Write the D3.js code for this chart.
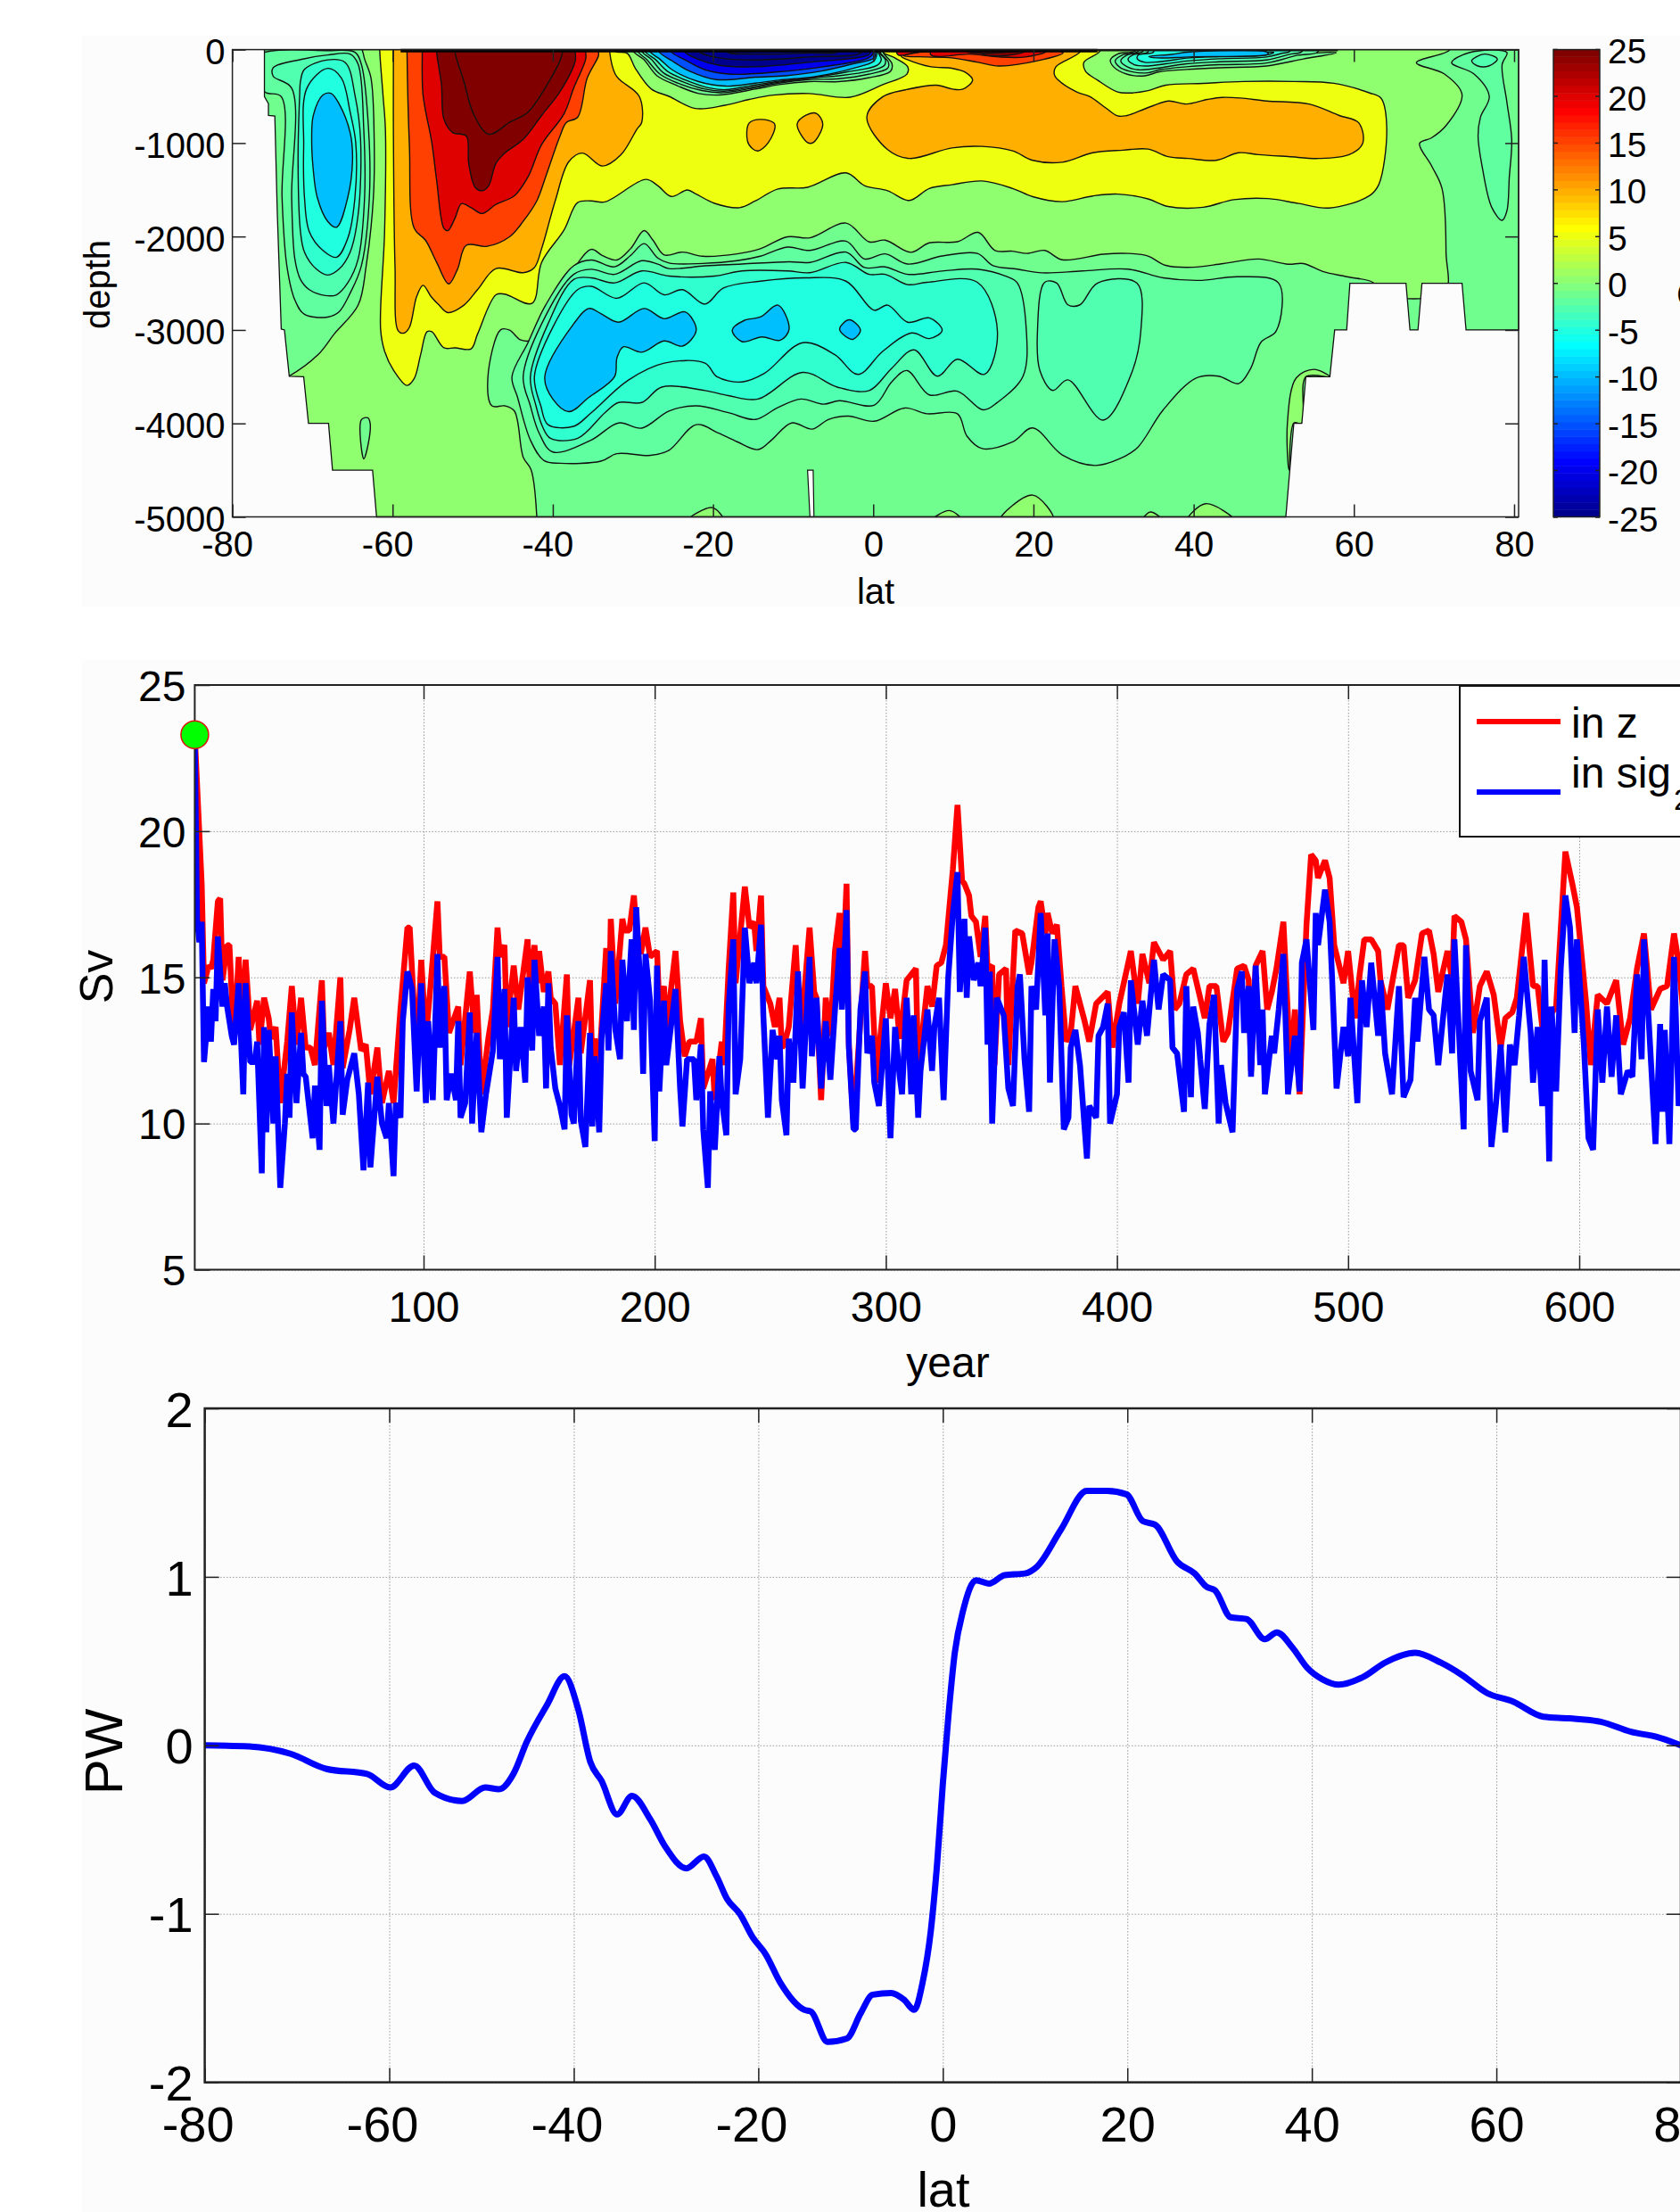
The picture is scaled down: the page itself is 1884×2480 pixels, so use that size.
<!DOCTYPE html>
<html>
<head>
<meta charset="utf-8">
<script src="https://cdn.jsdelivr.net/npm/d3@7"></script>
<style>
  body { margin: 0; background: #fff; }
  svg { display: block; font-family: "Liberation Sans", sans-serif; }
  text { fill: #000; }
</style>
</head>
<body>
<svg id="fig" width="1884" height="2480"></svg>
<script>
// tick labels
let latTicks = [-80, -60, -40, -20, 0, 20, 40, 60, 80];
let depthTicks = [0, -1000, -2000, -3000, -4000, -5000];
let colorTicks = [25, 20, 15, 10, 5, 0, -5, -10, -15, -20, -25];
let yearTicks = [100, 200, 300, 400, 500, 600];
let svTicks = [5, 10, 15, 20, 25];
let pwTicks = [-2, -1, 0, 1, 2];

// top panel: every contour is [lat, metres below surface]
let oceanFloor = [[-76,0],[-76,504],[-75.5,577],[-75.5,705],[-74.7,712],[-74.4,1729],[-73.9,2990],[-73.5,3000],[-72.9,3495],[-71.1,3500],[-70.5,4000],[-68,4000],[-67.5,4500],[-62.5,4500],[-62,5000],[51.5,5000],[52.5,4000],[53.5,4000],[54,3500],[57,3500],[57.6,3000],[59.1,3000],[59.5,2500],[66.5,2500],[67,3000],[68,3000],[68.5,2500],[73.5,2500],[74,3000],[80.56,3000],[80.56,0]];
let trench = [[-8.2,4500],[-7.5,4500],[-7.4,5000],[-7.9,5000]];
let ribbonThick = [[-59,10],[28,10]];
let ribbonThin = [[28,8],[58,8]];

let zero = [[-72.95,3495],[-69.3,3264],[-67.3,3045],[-64.3,2734],[-63.3,2314],[-62.4,1583],[-62.3,961],[-62.7,303],[-63.6,66],[-63.6,-60],[71.9,-60],[71.9,8],[67.8,140],[71.3,261],[73.5,482],[71.6,803],[69.7,944],[68.2,1004],[69.7,1245],[71,1486],[71.5,2169],[71.3,2600],[62.5,2600],[62.5,2500],[59.1,2430],[56.2,2377],[53.7,2289],[51.8,2297],[48.1,2241],[43.7,2289],[39.9,2329],[36.5,2309],[34.3,2209],[31.8,2181],[28.7,2189],[23.6,2249],[21.4,2149],[19.2,2181],[17.4,2157],[15.2,2149],[13.1,1956],[10.5,2056],[7,2068],[4.7,2169],[1.5,2039],[-0.5,2058],[-3.4,1857],[-7.9,2014],[-10.7,2003],[-14.1,2131],[-17,2186],[-21.3,2211],[-23.8,2167],[-26.1,2197],[-27.5,2039],[-28.6,1937],[-30.3,2131],[-32,2251],[-33.8,2204],[-35.2,2138],[-37.4,2350],[-40.3,2789],[-42.6,3107],[-44,3107],[-45.4,3001],[-46.5,2997],[-48.1,3501],[-47.6,3812],[-46,3812],[-44.8,3867],[-43.7,4360],[-42.7,4499],[-42,5000],[-42,5300],[-76,5300],[-76,3600]];
let zeroBumps = [
  [[-23.2,5040],[-20.1,4901],[-18.7,5040]],
  [[7.3,5040],[9.5,4932],[11.1,5040]],
  [[15.8,5040],[19.9,4767],[22.5,5040]],
  [[33.7,5020],[34.6,4948],[35.9,5020]],
  [[39.2,5040],[41.5,4859],[45.1,5040]],
  [[51.9,4498],[51.7,3996],[52.8,3514],[55,3422],[57,3502],[54,3502],[53.5,3996],[52.5,3996]]
];
let southSliver = [[-63.9,3960],[-63.1,3940],[-62.8,4000],[-63,4200],[-63.6,4380]];

let plus5 = [[-61.6,18],[-61.2,486],[-60.9,852],[-61,1948],[-61.5,2990],[-61,3227],[-59.9,3428],[-58.2,3593],[-57.3,3520],[-56.5,3264],[-55.7,3019],[-55.1,3019],[-53.6,3191],[-52.2,3191],[-50.2,3202],[-49.4,3045],[-47.1,2624],[-46,2617],[-42.6,2716],[-41.4,2277],[-38.6,1930],[-36.9,1637],[-35.2,1619],[-33.5,1630],[-28.4,1389],[-26.9,1455],[-25.2,1572],[-23.2,1502],[-22.1,1546],[-19.8,1645],[-16.7,1692],[-14.7,1619],[-11.9,1491],[-8.2,1473],[-3.4,1319],[-1.1,1455],[1.8,1510],[4.5,1614],[7,1486],[9.8,1446],[13.6,1406],[17.4,1486],[19.9,1574],[23.6,1627],[27.4,1566],[30.5,1546],[34.3,1598],[36.8,1679],[41.2,1687],[45,1606],[49.3,1594],[53.1,1647],[56.9,1695],[61.9,1566],[63.1,1446],[64.1,843],[63.4,522],[61.9,462],[57.5,361],[52.5,341],[46.2,341],[41.2,361],[36.5,381],[34.3,439],[32,464],[30.5,454],[28,327],[26.5,232],[26.3,136],[28.3,16]];
let plus10South = [[-59.9,18],[-59.9,852],[-59.7,2314],[-59.3,3008],[-58.6,3034],[-57.9,2972],[-57,2643],[-56.2,2522],[-55.2,2643],[-54.2,2734],[-53.1,2814],[-51.1,2734],[-49.4,2569],[-47.1,2343],[-43.7,2387],[-42.3,2332],[-41.4,2131],[-39.7,1619],[-38,1199],[-36.3,1107],[-33.8,1246],[-31.5,1126],[-29.5,852],[-28.9,779],[-29.2,502],[-31.6,327],[-32.2,264],[-32.9,25]];
let plus10IslandA = [[-15.5,788],[-14,747],[-12.3,798],[-13.1,995],[-14.4,1084],[-15.1,1059],[-15.7,979]];
let plus10IslandB = [[-9.5,798],[-8.4,702],[-7.1,683],[-6.3,798],[-7.5,995],[-8.2,995]];
let plus10North = [[25.9,16],[22.8,184],[22.6,264],[23.1,327],[25.4,454],[27,502],[29.1,629],[30.5,709],[31.5,709],[33.1,662],[35,598],[36.9,550],[39.1,582],[41.7,534],[43.5,512],[45.8,518],[49.1,550],[54.4,582],[58.1,703],[60.6,783],[61.1,1004],[59.4,1124],[55.6,1165],[51.8,1145],[48.1,1124],[45.6,1104],[42.8,1185],[39.3,1165],[36.8,1145],[34.3,1064],[31.2,1076],[27.4,1104],[23.6,1205],[19.9,1185],[17.4,1084],[13.6,1036],[9.8,1052],[4.5,1165],[1.8,1071],[-0.8,724],[1.2,504],[4,431],[7.9,381],[9.9,423],[11.2,423],[12.4,327],[11.6,248],[9.8,200],[7.2,184],[4.2,105],[3.5,73],[3.5,16]];
let plus15South = [[-58.2,18],[-57.9,1034],[-57.3,1912],[-55.9,2039],[-54.5,2277],[-53,2507],[-51.9,2350],[-50.8,2094],[-48.2,2105],[-45.4,2003],[-43.7,1838],[-42,1619],[-40.9,1363],[-39.1,925],[-38.3,779],[-36.9,724],[-35.7,303],[-34.3,66],[-34.3,18]];
let plus20South = [[-56.3,18],[-56.2,486],[-55.1,998],[-54.5,1400],[-53.6,1912],[-53.1,1937],[-52.2,1802],[-51.4,1648],[-50.2,1692],[-48.8,1754],[-47.1,1656],[-44.8,1564],[-43.1,1363],[-41.4,1016],[-38.6,687],[-37.4,413],[-35.9,102],[-35.9,18]];
let plus25South = [[-54.5,29],[-53.9,376],[-53.6,742],[-52.5,888],[-50.8,925],[-50.5,1217],[-49.7,1473],[-48.8,1510],[-48,1455],[-47.1,1217],[-46,1107],[-43.7,961],[-41.4,705],[-39.1,450],[-37.2,121],[-37.2,29]];
let plus30South = [[-52.2,29],[-51.1,340],[-49.9,687],[-48,906],[-45.4,779],[-43.1,669],[-40.6,358],[-38.9,66]];
let plus15North = [[3.8,67],[6,25],[23.7,34],[20.5,120],[15.7,175],[13.1,136],[9.8,89],[6.8,79]];
let plus20North = [[3.1,57],[5.7,25],[21.5,25],[19,79],[15.7,79],[12,48],[7.2,57]];
let plus25North = [[11.6,16],[19,16],[17.9,48],[15.3,67],[13.5,41]];

let tropicZero = [[-32.2,16],[-30.7,41],[-29.7,200],[-27.7,423],[-25.5,500],[-22.2,630],[-18.5,595],[-15.5,534],[-12.5,487],[-8,470],[-2.9,510],[1.2,375],[4.2,262],[4.3,184],[2.7,89],[1,16]];
let tropicM1 = [[-29.96,16],[-28.66,105],[-26.99,280],[-24.76,375],[-21.79,470],[-19.19,486],[-14.74,423],[-11.77,375],[-8.05,343],[-4.34,343],[-0.63,302],[2.15,232],[2.34,152],[1.22,25]];
let tropicM2 = [[-29.4,16],[-28.3,105],[-26.6,264],[-24.4,359],[-21.4,438],[-18.8,461],[-14.7,407],[-11.8,359],[-8.1,321],[-4.3,312],[-0.6,264],[1.8,200],[1.9,136],[0.85,25]];
let tropicM3 = [[-28.9,16],[-27.7,105],[-26.2,248],[-23.8,343],[-21,423],[-18.6,445],[-14.7,394],[-11.8,349],[-7.7,305],[-4.3,280],[-0.6,232],[1.4,168],[1.5,105],[0.7,25]];
let tropicM5 = [[-28.5,16],[-27.2,105],[-25.7,232],[-22.9,343],[-20.3,413],[-18.4,429],[-14.7,378],[-11.8,340],[-7.5,296],[-3.2,238],[0.5,168],[1,105],[0.6,25]];
let tropicM10 = [[-27.9,16],[-26.6,105],[-25.1,216],[-21.8,343],[-18.4,391],[-14.7,359],[-11.8,327],[-7.3,289],[-2.5,200],[0.1,120],[0.5,25]];
let tropicM15 = [[-26.8,16],[-25.1,121],[-22.9,232],[-19.6,321],[-14.7,295],[-11,280],[-6.6,232],[-2.5,152],[0.1,89],[0.3,25]];
let tropicM20 = [[-25.3,16],[-23.6,105],[-21,216],[-17.7,264],[-11.8,238],[-6.2,184],[-0.6,89],[0.1,25]];
let tropicM25 = [[-23.6,16],[-21.8,105],[-19.2,168],[-14.7,184],[-8.1,136],[-0.6,57],[-0.3,16]];
let tropicM30 = [[-21.8,16],[-19.2,89],[-14.7,111],[-8.1,79],[-1.4,25]];
let tropicM35 = [[-18.4,16],[-14.7,48],[-8.1,35],[-4.3,16]];

let southM2 = [[-76,450],[-73.9,504],[-73.8,1583],[-73.2,2314],[-72.2,2679],[-71,2833],[-68.1,2862],[-66.7,2807],[-65.3,2606],[-63.9,2314],[-62.9,1583],[-63,852],[-63.9,157],[-64.7,29],[-68.1,11],[-77,77]];
let southM3 = [[-74.9,194],[-71.2,102],[-68.1,58],[-65.3,48],[-64.3,157],[-63.6,852],[-63.5,1583],[-64.3,2241],[-65.6,2497],[-67,2624],[-68.4,2632],[-70.4,2569],[-71.5,2460],[-72.2,2241],[-72.6,1583],[-72.6,413],[-74.9,285]];
let southM4 = [[-71.5,340],[-71,212],[-68.1,110],[-65.9,139],[-64.7,486],[-64,961],[-64.3,1765],[-65.3,2167],[-66.7,2350],[-68.1,2412],[-69.5,2350],[-71,2167],[-71.5,1948],[-71.8,1217],[-71.6,486]];
let southM5 = [[-70.7,413],[-68.1,201],[-66.4,303],[-65.3,669],[-64.6,998],[-64.7,1583],[-65.6,2021],[-67,2222],[-68.7,2149],[-70.4,1948],[-71,1583],[-71.1,1034]];
let southM10 = [[-69.9,705],[-68.7,486],[-67.7,468],[-66.7,577],[-65.3,888],[-65,1181],[-65.6,1583],[-67,1901],[-68.1,1838],[-69.4,1583],[-69.9,1290],[-70.1,961]];

let deepM2 = [[-45.1,3501],[-43.1,3136],[-40.9,2734],[-37.4,2314],[-35.2,2251],[-32.3,2324],[-30.3,2204],[-28.6,2076],[-26.9,2230],[-25.5,2284],[-21.3,2288],[-17,2259],[-14.1,2211],[-10.7,2113],[-7.9,2149],[-3.4,2050],[-1.1,2240],[1.5,2186],[4.3,2295],[8.6,2209],[13,2181],[14.9,2309],[18,2349],[21.1,2389],[26.1,2369],[31.8,2349],[36.2,2442],[40.6,2470],[45.6,2430],[50.6,2498],[50.3,3012],[48.4,3132],[47.1,3414],[45.6,3574],[43.1,3494],[40.3,3514],[36.2,3855],[33,4257],[30.8,4377],[27.7,4450],[23.6,4337],[19.9,4048],[17.4,4197],[13.6,4269],[11.7,4136],[10.5,3896],[6.7,3896],[3.9,3835],[0.1,3977],[-3.1,3922],[-5.6,3958],[-7.6,4061],[-10.2,3995],[-12.7,4178],[-14.4,4280],[-17,4196],[-19.3,4105],[-22.1,4013],[-25.5,4287],[-27.8,4342],[-32,4324],[-34,4404],[-39.1,4426],[-41.1,4397],[-42.8,4178],[-44.4,3721]];
let deepM3 = [[-43.7,3501],[-41.4,2935],[-37.4,2405],[-35.2,2350],[-32.3,2405],[-28.9,2259],[-26.9,2295],[-25.5,2343],[-21,2314],[-16.4,2295],[-10.5,2270],[-7.9,2277],[-3.4,2167],[-1.1,2332],[1.5,2325],[4.3,2405],[8.6,2369],[13,2349],[16.7,2430],[18,2498],[19.1,2992],[18.7,3494],[15.5,3775],[13.7,3855],[10.5,3655],[7,3695],[4.2,3434],[2.3,3556],[0.1,3805],[-4.2,3757],[-6.2,3794],[-9,3739],[-11.9,3830],[-14.7,3958],[-18.1,3885],[-22.1,3812],[-25.5,3867],[-28.9,4050],[-31.8,3995],[-35.2,4178],[-40,4306],[-41.7,4105],[-42.8,3812]];
let deepM3East = [[21.4,2490],[22.9,2498],[24.3,2731],[25.8,2731],[28,2498],[32.9,2498],[33.4,3012],[32.1,3494],[28.7,3964],[24.3,3534],[22.4,3647],[20.8,3434],[20.5,3012]];
let deepM4 = [[-42.8,3501],[-40.6,2935],[-37.4,2460],[-35.2,2442],[-32.3,2496],[-28.9,2368],[-25.5,2423],[-19.8,2423],[-16.4,2368],[-10.7,2368],[-7.9,2387],[-3.4,2277],[-0.5,2405],[1.5,2405],[4.3,2515],[6.7,2490],[13,2490],[15.5,3012],[13.9,3474],[10.5,3313],[8,3494],[5.1,3213],[2.3,3410],[-0.5,3648],[-4.5,3611],[-8.8,3454],[-14.4,3739],[-18.1,3702],[-21,3648],[-26.4,3611],[-28.9,3776],[-31.8,3776],[-33.5,3885],[-36.9,4159],[-40.3,4159],[-41.3,4031],[-42.1,3812]];
let deepM5 = [[-42.3,3501],[-40,2971],[-36.9,2569],[-35.2,2533],[-32,2661],[-28.6,2496],[-26.1,2624],[-23.8,2569],[-21,2723],[-18.7,2551],[-14.1,2478],[-8.5,2442],[-3.4,2478],[0.1,2789],[1.8,2734],[4.3,2917],[7,2871],[8.6,3004],[7,3092],[4.8,3032],[1.2,3227],[-1.9,3476],[-4.8,3264],[-8.8,3136],[-13.6,3465],[-16.4,3556],[-19.5,3501],[-21,3355],[-26.1,3355],[-30.6,3538],[-35.2,3885],[-37.4,4031],[-40.6,4013],[-41.5,3812]];
let deepM10A = [[-41,3501],[-37.4,2935],[-35.5,2770],[-34,2825],[-31.8,2917],[-28.6,2770],[-26.1,2880],[-23.5,2807],[-22.1,3001],[-23.8,3172],[-26.1,3118],[-28.9,3238],[-31.2,3180],[-32,3300],[-32.3,3501],[-35.5,3721],[-38,3874],[-40,3739]];
let deepM10B = [[-17.6,3001],[-16.1,2898],[-14.1,2862],[-11.9,2734],[-10.5,2990],[-11.6,3110],[-13.9,3074],[-16.4,3125]];
let deepM10C = [[-4.2,2990],[-3,2891],[-1.6,3001],[-2.5,3099],[-3.1,3088]];

let northM1 = [[32.8,9],[30.5,47],[29.6,111],[30,184],[31.7,264],[33.9,280],[35.7,238],[39.1,213],[43.2,194],[49.1,175],[53.7,100],[57.8,32],[50,12]];
let northM2 = [[33.1,16],[31.1,57],[30.2,120],[30.7,184],[32,232],[34.3,248],[35.7,216],[39.1,184],[43.2,162],[49.1,143],[53,60],[55.5,24]];
let northM3 = [[33.7,16],[31.7,57],[30.9,120],[31.7,184],[33.1,216],[35.4,200],[39.1,152],[43.2,130],[49.1,111],[52,50],[53.5,20]];
let northM4 = [[34.3,25],[32.4,57],[31.8,105],[32.6,162],[34.3,175],[36.5,152],[39.5,120],[43.2,98],[49.1,79],[51,40],[52,18]];
let northM5 = [[35,25],[33.1,57],[32.96,98],[33.9,136],[35.7,130],[39.5,89],[43.2,73],[49.1,57],[50,30],[48,16]];
let northM10 = [[34.4,73],[37.2,51],[39.5,25],[49.1,25],[49.3,48],[39.5,79],[35.4,89]];
let arcticM2 = [[72.2,141],[74.4,32],[79.1,32],[78.5,161],[79.1,562],[79.7,964],[79.4,1365],[79.1,1727],[78.5,1827],[77.2,1687],[76,1245],[75.5,924],[75.8,723],[76.9,502],[75,261]];
let arcticM3 = [[74.7,120],[76.3,48],[77.9,100],[76.9,173],[75.4,173]];

// middle panel: [year, Sv] turning points of the two overturning series
let svZ = [[1,23.3],[4,18.2],[5,14.8],[7,15.4],[8,15.3],[9,15.6],[11,17.6],[12,17.7],[13,14.9],[15,16.1],[16,16.1],[18,12.8],[20,15.7],[21,13.3],[23,15.6],[25,13.2],[28,14.2],[29,12.7],[31,14.3],[33,13.6],[34,12.9],[36,13.3],[38,10.7],[41,12.8],[43,14.7],[45,12.7],[47,14.3],[49,12.6],[51,12.6],[53,12],[56,14.9],[57,12.6],[59,13.1],[61,12],[64,15],[65,11.9],[68,13.2],[70,14.3],[73,12.5],[75,12.7],[77,11],[80,12.6],[82,10.7],[85,11.8],[87,10.7],[90,13.9],[93,16.7],[94,16.7],[97,12.3],[99,15.6],[101,12.9],[103,14.7],[106,17.6],[107,15.7],[109,15.7],[111,13.1],[115,14],[116,12],[120,15.2],[122,13.1],[123,14.4],[125,11],[128,12.9],[130,13.9],[132,16.7],[133,15.7],[135,16.1],[136,13.3],[139,15.4],[141,13.9],[145,16.3],[146,14.7],[148,16.1],[149,14.8],[150,15.9],[152,14.5],[154,15.2],[155,14.3],[157,14.1],[159,12],[162,15.1],[163,12],[165,13.1],[167,14.3],[168,12.4],[172,14.9],[173,12],[174,12.9],[176,12],[179,16],[180,12.9],[181,17],[183,14.1],[186,17],[187,16.6],[189,16.6],[191,17.8],[192,16.7],[194,15.8],[196,16.7],[198,15.7],[201,15.9],[202,14],[204,14.7],[205,13.2],[209,15.9],[211,13.5],[213,12.3],[215,12.8],[218,12.8],[220,13.6],[221,11.2],[225,12.2],[226,10.8],[229,12.8],[230,12],[232,15.3],[234,17.9],[235,14.8],[239,18.1],[241,16.7],[243,16.9],[244,15.9],[246,17.8],[247,14.7],[250,14.1],[252,13.3],[254,14.3],[255,12.6],[256,12.7],[258,13.3],[261,16.1],[263,12.8],[267,16.7],[269,14.5],[270,14.3],[272,10.8],[274,14.3],[276,13],[278,15.9],[280,17.2],[281,14.4],[283,18.2],[284,12.7],[286,10],[291,15.9],[292,14.7],[294,14.7],[296,11.4],[297,12.5],[300,14.8],[302,13.6],[304,14.6],[306,12.9],[309,14.9],[313,15.3],[314,11.8],[318,14.7],[320,14],[322,15.4],[324,15.5],[326,16.1],[329,18.7],[331,20.9],[333,18.3],[334,18.2],[336,17.8],[337,17.1],[339,16.9],[341,15.7],[343,17.1],[344,15.3],[346,15.4],[347,12],[349,15.1],[352,15.3],[353,12],[356,16.6],[359,16.5],[362,15.1],[363,15.5],[366,17.4],[367,17.6],[369,16.5],[370,17.2],[372,16.5],[374,16.8],[376,14.7],[378,12.8],[380,13.1],[382,14.7],[386,13.5],[388,12.8],[391,14.1],[396,14.5],[398,12.6],[401,14.1],[406,15.9],[409,14.1],[411,15.8],[414,14.8],[416,16.2],[418,15.9],[420,15.6],[423,15.9],[425,13.9],[427,14.1],[430,15.1],[433,15.3],[436,14.3],[438,13.6],[440,14.7],[443,14.7],[446,12.8],[448,13.1],[452,15.3],[455,15.4],[457,14.9],[458,11.8],[460,15.4],[463,15.9],[465,13.9],[467,14.5],[469,15.3],[472,16.9],[475,12],[477,13.9],[479,11],[482,16.8],[484,19.2],[486,19],[487,18.4],[490,19],[492,18.4],[494,16.1],[498,14.8],[500,15.9],[503,13.6],[505,15.1],[507,16.3],[510,16.3],[513,15.9],[514,14.9],[517,13.9],[522,16.1],[524,16.1],[526,14.3],[529,14.9],[532,16.5],[535,16.6],[537,15.8],[539,14.5],[543,15.9],[545,14.9],[546,17.1],[549,16.9],[551,16.3],[554,13.1],[557,14.7],[560,15.2],[563,14.4],[566,12.6],[568,13.6],[571,13.8],[573,14.3],[577,17.2],[580,14.7],[582,14.7],[584,13.3],[590,14],[594,19.3],[597,18.2],[599,17.4],[603,14.1],[605,12],[608,14.4],[612,14.1],[616,14.9],[619,12.7],[622,13.6],[625,15.3],[628,16.5],[631,13.9],[635,14.6],[638,14.7],[641,16.5],[643,15.5],[646,13]];
let svSig2 = [[1,23.3],[2,17],[3,16.2],[4,16.9],[5,12.1],[7,14],[8,12.8],[9,14.6],[10,13.5],[11,16.4],[13,14],[14,14.8],[15,14],[17,13],[18,12.7],[20,14.8],[22,11],[23,14.8],[25,12.1],[27,12.1],[28,12.8],[30,8.3],[31,13.3],[32,9.7],[33,13.2],[35,10],[36,12.3],[38,7.8],[40,10],[41,11.7],[42,10.2],[43,13.8],[45,10.7],[47,13.1],[48,11.7],[49,11.6],[52,9.5],[53,11.3],[55,9.1],[56,14.2],[58,10.6],[59,12],[61,10],[64,13.5],[65,10.3],[67,11.5],[70,12.4],[72,11],[74,8.4],[76,11.4],[77,8.5],[80,11.6],[82,10],[84,9.5],[85,10.7],[87,8.2],[88,10.7],[90,10.2],[91,13.5],[93,15.2],[95,14.6],[97,11.1],[99,14.8],[101,10.7],[102,13.5],[104,10.8],[106,15.8],[107,12.6],[109,14.7],[110,10.8],[112,11.7],[114,10.8],[115,13.5],[116,10.2],[118,10.7],[120,13.8],[121,10],[123,13.1],[125,9.7],[127,11],[130,12.5],[132,15.7],[133,12.2],[135,14.6],[136,10.2],[139,14.3],[140,11.8],[142,13.3],[144,11.4],[145,15],[147,12.5],[148,15.6],[150,13],[152,14],[153,11.2],[154,14.8],[155,12.6],[157,11.2],[159,10.6],[161,9.8],[162,13.7],[164,10.3],[165,10],[167,13.5],[168,10.1],[170,9.2],[172,13.1],[173,9.9],[174,12.3],[176,9.7],[177,12.9],[179,14.8],[180,12.5],[181,15.9],[183,13.2],[185,12.2],[186,15.6],[188,13.5],[190,16.3],[191,13.2],[192,17.4],[194,14.4],[195,11.7],[196,15.8],[198,14.2],[200,9.4],[201,15.4],[202,11.1],[204,14.2],[205,12],[209,14.6],[211,11.2],[212,9.9],[214,12.2],[217,12.2],[218,10.8],[220,12.7],[221,9.8],[223,7.8],[224,11.1],[226,9.1],[228,12.3],[229,10.8],[231,9.6],[232,14],[234,16.3],[235,11],[237,12.2],[239,16.7],[241,14.8],[243,15.5],[244,14.8],[246,16.8],[247,13.7],[249,10.2],[251,13.2],[253,12.2],[254,13],[255,10.8],[257,9.6],[258,12.9],[260,11.4],[262,15.2],[264,11.2],[267,15.7],[268,12.3],[270,14.3],[272,11.2],[274,13.5],[276,11.5],[278,13.9],[280,16],[281,13.9],[283,17.3],[284,12.6],[286,9.8],[287,9.8],[289,13.9],[291,15.2],[292,12.4],[294,13],[295,11.4],[297,10.6],[300,13.6],[302,9.5],[304,13.3],[306,11.6],[307,11],[309,14.3],[311,11],[312,13.7],[314,10.2],[315,11.8],[318,13.9],[320,11.8],[321,13.3],[323,14.3],[325,10.8],[327,15],[329,17.2],[331,18.6],[332,14.5],[334,17],[335,14.3],[336,16.4],[338,14.9],[340,15.5],[341,14.7],[343,16.7],[344,12.7],[345,15.2],[346,10],[348,14.3],[351,13.7],[353,11.2],[355,10.6],[357,14.7],[358,15.1],[360,12.2],[362,10.4],[363,14.7],[365,13.9],[367,17.2],[369,13.7],[370,16.5],[371,11.4],[373,16.3],[375,14.7],[377,9.8],[379,10.2],[380,12.6],[382,13.2],[384,12],[387,8.8],[388,10.6],[391,10.2],[392,13],[394,13.3],[396,14.1],[397,10],[400,11],[401,13.3],[403,13.8],[405,11.4],[406,14.9],[409,12.7],[411,14.2],[413,13],[416,15.6],[418,13.9],[420,15.1],[423,14.9],[424,12.6],[426,12.4],[429,10.4],[430,14.7],[432,10.9],[433,14],[435,13.1],[436,12.2],[438,10.5],[440,13.4],[442,14.4],[444,10],[445,12],[447,10.7],[450,9.7],[452,14.6],[454,15.2],[455,13.1],[457,14.7],[458,11.6],[460,15.4],[462,12],[463,13.9],[464,11],[467,13],[468,12.4],[470,13.9],[472,15.8],[474,11],[477,13],[479,11.1],[480,15.5],[482,16.3],[485,13.2],[486,17.2],[487,16.1],[490,18],[492,16.9],[493,15.1],[495,11.2],[498,13.3],[500,12.3],[501,14.3],[504,10.7],[506,14.9],[508,13.3],[510,15.5],[513,13],[514,14.9],[516,12.4],[519,11],[522,14.7],[524,10.9],[527,11.5],[529,14.3],[530,12.8],[533,15.7],[535,13.9],[537,13.7],[539,12],[543,15.1],[545,12.4],[546,16.3],[550,9.8],[551,16.1],[553,11.8],[556,10.8],[557,13.5],[560,14.3],[562,9.2],[564,10.7],[566,12.7],[568,9.7],[570,12.7],[572,12],[574,13.7],[576,15.7],[579,13.1],[580,11.4],[582,13.3],[584,10.6],[585,15.6],[587,8.7],[588,14],[590,11.1],[592,15.3],[594,17.8],[596,16.7],[598,13.1],[599,16.3],[602,12.7],[604,9.5],[606,9.1],[608,13.9],[610,11.4],[612,14],[614,11.6],[616,13.7],[618,11],[621,11.8],[623,11.6],[625,15.1],[627,12.2],[628,16.3],[630,13.6],[633,9.3],[635,13.4],[636,10.4],[637,13.2],[639,9.3],[641,15.7],[643,10.6],[646,13]];
let startMarker = [1, 23.3];

// bottom panel: [lat, PW]
let heatTransport = [[-80,0],[-75.2,-0.006],[-70.7,-0.05],[-66.8,-0.14],[-62.4,-0.17],[-59.9,-0.25],[-57.3,-0.12],[-55.1,-0.28],[-52.1,-0.33],[-49.6,-0.25],[-48.1,-0.26],[-46.5,-0.165],[-45.1,0.02],[-42.9,0.24],[-41,0.41],[-39.5,0.21],[-38.2,-0.1],[-37,-0.21],[-35.3,-0.41],[-33.7,-0.3],[-31.7,-0.44],[-30.1,-0.6],[-27.8,-0.73],[-25.9,-0.66],[-24.5,-0.78],[-23.4,-0.91],[-22,-1],[-20.6,-1.14],[-19.2,-1.24],[-17.6,-1.41],[-15,-1.57],[-14.3,-1.58],[-12.5,-1.76],[-10.4,-1.74],[-8.9,-1.59],[-7.6,-1.48],[-5.6,-1.47],[-4.2,-1.51],[-3.1,-1.57],[-2.2,-1.41],[-1.3,-1.1],[-0.6,-0.69],[0,-0.23],[0.6,0.17],[1.3,0.55],[2.2,0.8],[3.6,0.98],[5,0.96],[6.7,1.01],[8.9,1.02],[10.2,1.06],[12.8,1.28],[15.6,1.51],[17.8,1.51],[19.9,1.49],[21.7,1.33],[23,1.31],[25.4,1.09],[27.3,1.02],[28.6,0.94],[29.5,0.92],[31.2,0.76],[32.9,0.75],[34.9,0.63],[36.2,0.67],[37.9,0.58],[39.5,0.46],[41.2,0.39],[42.9,0.36],[45.7,0.41],[47.9,0.49],[51.2,0.55],[54,0.49],[56.2,0.42],[59,0.31],[61.8,0.26],[65.1,0.17],[67.9,0.16],[71.3,0.14],[74.6,0.08],[77.4,0.05],[80,0]];

// jet(64), same steps as the colorbar
function jet(value) {
  let idx = Math.min(63, Math.floor((value + 25) / 50 * 64));
  let t = (idx + 1) / 64;
  let ch = c => Math.round(255 * Math.max(0, Math.min(1, 1.5 - Math.abs(4 * t - c))));
  return d3.rgb(ch(3), ch(2), ch(1)).formatHex();
}

// contours that run into the surface get pushed above it, the clip cuts them off flat
function toSurface(points) {
  let first = points[0], last = points[points.length - 1];
  if (first[1] < 70 && last[1] < 70) {
    return [[first[0], -100]].concat(points, [[last[0], -100]]);
  }
  return points;
}

let svg = d3.select("#fig");
svg.append("rect").attr("x", 92).attr("y", 40).attr("width", 1792).attr("height", 640).attr("fill", "#fcfcfc");
svg.append("rect").attr("x", 92).attr("y", 740).attr("width", 1792).attr("height", 1740).attr("fill", "#fcfcfc");

function styleAxis(g, fontSize) {
  g.select(".domain").remove();
  g.selectAll("line").attr("stroke", "#222").attr("stroke-width", 1.5);
  g.selectAll("text").attr("fill", "#000").attr("font-size", fontSize).attr("font-family", "'Liberation Sans', sans-serif");
}

function frame(left, top, right, bottom, width) {
  svg.append("rect").attr("x", left).attr("y", top).attr("width", right - left).attr("height", bottom - top)
    .attr("fill", "none").attr("stroke", "#222").attr("stroke-width", width);
}

function makeDepthPanel() {
  let left = 260.6, right = 1703, top = 55.6, bottom = 579.5;
  let x = d3.scaleLinear().domain([-80, 80.56]).range([left, right]);
  let y = d3.scaleLinear().domain([-5000, 0]).range([bottom, top]);
  let polyLine = d3.line().x(d => x(d[0])).y(d => y(-d[1]));
  let smooth = d3.line().x(d => x(d[0])).y(d => y(-d[1])).curve(d3.curveCatmullRomClosed.alpha(0.5));

  let plot = [[-76,0]].concat(oceanFloor);
  let defs = svg.append("defs");
  defs.append("clipPath").attr("id", "oceanClip").append("path").attr("d", polyLine(plot) + "Z");

  let g = svg.append("g").attr("clip-path", "url(#oceanClip)");
  g.append("path").attr("d", polyLine(plot) + "Z").attr("fill", jet(-1));

  let layers = [
    [zero, 0], [southSliver, -1],
    [plus5, 5], [plus10South, 10], [plus10IslandA, 10], [plus10IslandB, 10], [plus10North, 10],
    [plus15South, 15], [plus20South, 20], [plus25South, 25], [plus30South, 25],
    [plus15North, 15], [plus20North, 20], [plus25North, 25],
    [tropicZero, 0], [tropicM1, -1], [tropicM2, -2], [tropicM3, -3], [tropicM5, -5], [tropicM10, -10],
    [tropicM15, -15], [tropicM20, -20], [tropicM25, -25], [tropicM30, -25], [tropicM35, -25],
    [southM2, -2], [southM3, -3], [southM4, -4], [southM5, -5], [southM10, -10],
    [deepM2, -2], [deepM3, -3], [deepM3East, -3], [deepM4, -4], [deepM5, -5], [deepM10A, -10], [deepM10B, -10], [deepM10C, -10],
    [northM1, -1], [northM2, -2], [northM3, -3], [northM4, -4], [northM5, -5], [northM10, -10],
    [arcticM2, -2], [arcticM3, -3]
  ];
  zeroBumps.forEach(b => layers.splice(1, 0, [b, 0]));

  g.selectAll("path.contour").data(layers).enter().append("path")
    .attr("class", "contour")
    .attr("d", d => smooth(toSurface(d[0])))
    .attr("fill", d => jet(d[1]))
    .attr("stroke", "#111")
    .attr("stroke-width", 1.4);

  svg.append("path").attr("d", polyLine(ribbonThick)).attr("stroke", "#000").attr("stroke-width", 4).attr("fill", "none");
  svg.append("path").attr("d", polyLine(ribbonThin)).attr("stroke", "#111").attr("stroke-width", 2).attr("fill", "none");
  svg.append("path").attr("d", polyLine(trench) + "Z").attr("fill", "#fff").attr("stroke", "#111").attr("stroke-width", 1.2);
  svg.append("path").attr("d", polyLine(plot) + "Z").attr("fill", "none").attr("stroke", "#111").attr("stroke-width", 1.3);

  // axes
  let ax = svg.append("g").attr("transform", `translate(0,${bottom})`)
    .call(d3.axisBottom(x).tickValues(latTicks).tickSize(-14).tickPadding(16).tickFormat(d => String(d)));
  styleAxis(ax, 40);
  ax.selectAll("text").attr("dx", d => d < 0 ? -6 : 0);
  let axT = svg.append("g").attr("transform", `translate(0,${top})`)
    .call(d3.axisTop(x).tickValues(latTicks).tickSize(-14).tickFormat(""));
  styleAxis(axT, 40);
  let ay = svg.append("g").attr("transform", `translate(${left},0)`)
    .call(d3.axisLeft(y).tickValues(depthTicks).tickSize(-15).tickPadding(8).tickFormat(d => String(d)));
  styleAxis(ay, 40);
  ay.selectAll("text").attr("dy", "0.4em");
  let ayR = svg.append("g").attr("transform", `translate(${right},0)`)
    .call(d3.axisRight(y).tickValues(depthTicks).tickSize(-15).tickFormat(""));
  styleAxis(ayR, 40);
  frame(left, top, right, bottom, 1.5);

  svg.append("text").attr("x", 982).attr("y", 677).attr("text-anchor", "middle").attr("font-size", 40).text("lat");
  svg.append("text").attr("transform", "translate(123,319) rotate(-90)").attr("text-anchor", "middle").attr("font-size", 40).text("depth");

  // colorbar
  let cLeft = 1742, cRight = 1794;
  let c = d3.scaleLinear().domain([-25, 25]).range([bottom, top - 0.6]);
  let steps = d3.range(64);
  svg.append("g").selectAll("rect").data(steps).enter().append("rect")
    .attr("x", cLeft).attr("width", cRight - cLeft)
    .attr("y", i => c(-25 + (i + 1) * 50 / 64))
    .attr("height", i => c(-25 + i * 50 / 64) - c(-25 + (i + 1) * 50 / 64) + 0.5)
    .attr("fill", i => jet(-25 + (i + 0.5) * 50 / 64));
  let cb = svg.append("g").attr("transform", `translate(${cRight},0)`)
    .call(d3.axisRight(c).tickValues(colorTicks).tickSize(-5).tickPadding(9).tickFormat(d => String(d)));
  styleAxis(cb, 39);
  cb.selectAll("text").attr("dy", "0.4em");
  let cbL = svg.append("g").attr("transform", `translate(${cLeft},0)`)
    .call(d3.axisLeft(c).tickValues(colorTicks).tickSize(-5).tickFormat(""));
  styleAxis(cbL, 39);
  frame(cLeft, top, cRight, bottom, 1.5);
  svg.append("text").attr("x", 1880).attr("y", 344).attr("font-size", 40).text("C");
}

function makeSeriesPanel() {
  let left = 218.4, right = 218.4 + 699 * 2.592, top = 768, bottom = 1423.5;
  let x = d3.scaleLinear().domain([1, 700]).range([left, right]);
  let y = d3.scaleLinear().domain([5, 25]).range([bottom, top]);
  let h = bottom - top;

  let gx = svg.append("g").attr("transform", `translate(0,${bottom})`)
    .call(d3.axisBottom(x).tickValues(yearTicks).tickSize(-h).tickFormat(""));
  styleGrid(gx);
  let gy = svg.append("g").attr("transform", `translate(${left},0)`)
    .call(d3.axisLeft(y).tickValues(svTicks).tickSize(-(right - left)).tickFormat(""));
  styleGrid(gy);

  svg.append("defs").append("clipPath").attr("id", "svClip").append("rect")
    .attr("x", left).attr("y", top).attr("width", right - left).attr("height", h);
  let line = d3.line().x(d => x(d[0])).y(d => y(d[1]));
  let plot = svg.append("g").attr("clip-path", "url(#svClip)");
  plot.append("path").attr("d", line(svZ)).attr("fill", "none").attr("stroke", "#ff0000").attr("stroke-width", 6.5).attr("stroke-linejoin", "bevel");
  plot.append("path").attr("d", line(svSig2)).attr("fill", "none").attr("stroke", "#0000ff").attr("stroke-width", 6.5).attr("stroke-linejoin", "bevel");

  let ax = svg.append("g").attr("transform", `translate(0,${bottom})`)
    .call(d3.axisBottom(x).tickValues(yearTicks).tickSize(-16).tickPadding(24).tickFormat(d => String(d)));
  styleAxis(ax, 48);
  let axT = svg.append("g").attr("transform", `translate(0,${top})`)
    .call(d3.axisTop(x).tickValues(yearTicks).tickSize(-16).tickFormat(""));
  styleAxis(axT, 48);
  let ay = svg.append("g").attr("transform", `translate(${left},0)`)
    .call(d3.axisLeft(y).tickValues(svTicks).tickSize(-17).tickPadding(10).tickFormat(d => String(d)));
  styleAxis(ay, 48);
  ay.selectAll("text").attr("dy", "0.36em");
  frame(left, top, right, bottom, 2);

  svg.append("circle").attr("cx", x(startMarker[0])).attr("cy", y(startMarker[1])).attr("r", 15.5)
    .attr("fill", "#00ff00").attr("stroke", "#e01010").attr("stroke-width", 1.5);

  svg.append("text").attr("x", 1063).attr("y", 1544).attr("text-anchor", "middle").attr("font-size", 48).text("year");
  svg.append("text").attr("transform", "translate(126,1095) rotate(-90)").attr("text-anchor", "middle").attr("font-size", 52).text("Sv");

  // legend box runs off the page
  svg.append("rect").attr("x", 1637).attr("y", 769).attr("width", 400).attr("height", 169).attr("fill", "#fff").attr("stroke", "#111").attr("stroke-width", 2);
  svg.append("line").attr("x1", 1656).attr("x2", 1750).attr("y1", 809).attr("y2", 809).attr("stroke", "#ff0000").attr("stroke-width", 6);
  svg.append("line").attr("x1", 1656).attr("x2", 1750).attr("y1", 888).attr("y2", 888).attr("stroke", "#0000ff").attr("stroke-width", 6);
  svg.append("text").attr("x", 1762).attr("y", 827).attr("font-size", 48).text("in z");
  svg.append("text").attr("x", 1762).attr("y", 883).attr("font-size", 48).text("in sig");
  svg.append("text").attr("x", 1877).attr("y", 908).attr("font-size", 34).text("2");
}

function styleGrid(g) {
  g.select(".domain").remove();
  g.selectAll("line").attr("stroke", "#999").attr("stroke-width", 1).attr("stroke-dasharray", "1.5,2");
}

function makeHeatPanel() {
  let left = 229.6, right = 1885, top = 1579, bottom = 2334.6;
  let x = d3.scaleLinear().domain([-80, 80]).range([left, right]);
  let y = d3.scaleLinear().domain([-2, 2]).range([bottom, top]);

  let gx = svg.append("g").attr("transform", `translate(0,${bottom})`)
    .call(d3.axisBottom(x).tickValues(latTicks).tickSize(-(bottom - top)).tickFormat(""));
  styleGrid(gx);
  let gy = svg.append("g").attr("transform", `translate(${left},0)`)
    .call(d3.axisLeft(y).tickValues(pwTicks).tickSize(-(right - left)).tickFormat(""));
  styleGrid(gy);

  let line = d3.line().x(d => x(d[0])).y(d => y(d[1])).curve(d3.curveMonotoneX);
  svg.append("path").attr("d", line(heatTransport)).attr("fill", "none").attr("stroke", "#0000ff").attr("stroke-width", 7);

  let ax = svg.append("g").attr("transform", `translate(0,${bottom})`)
    .call(d3.axisBottom(x).tickValues(latTicks).tickSize(-16).tickPadding(27).tickFormat(d => String(d)));
  styleAxis(ax, 56);
  ax.selectAll("text").attr("dx", d => d < 0 ? -8 : 0);
  let axT = svg.append("g").attr("transform", `translate(0,${top})`)
    .call(d3.axisTop(x).tickValues(latTicks).tickSize(-16).tickFormat(""));
  styleAxis(axT, 56);
  let ay = svg.append("g").attr("transform", `translate(${left},0)`)
    .call(d3.axisLeft(y).tickValues(pwTicks).tickSize(-16).tickPadding(13).tickFormat(d => String(d)));
  styleAxis(ay, 56);
  ay.selectAll("text").attr("dy", "0.36em");
  let ayR = svg.append("g").attr("transform", `translate(${right},0)`)
    .call(d3.axisRight(y).tickValues(pwTicks).tickSize(-16).tickFormat(""));
  styleAxis(ayR, 56);
  frame(left, top, right, bottom, 2.5);

  svg.append("text").attr("x", 1058).attr("y", 2474).attr("text-anchor", "middle").attr("font-size", 56).text("lat");
  svg.append("text").attr("transform", "translate(137,1964) rotate(-90)").attr("text-anchor", "middle").attr("font-size", 60).text("PW");
}

makeDepthPanel();
makeSeriesPanel();
makeHeatPanel();
</script>
</body>
</html>
